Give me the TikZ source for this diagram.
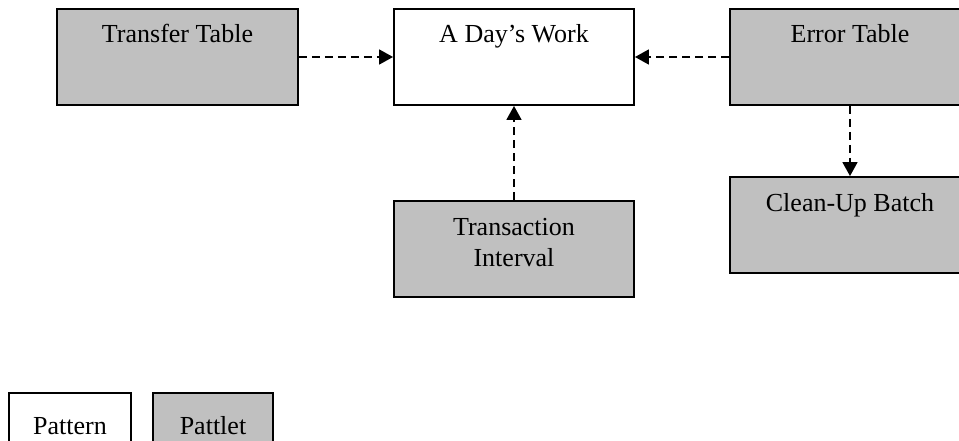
\documentclass[tikz,border=0pt]{standalone}
\usepackage{fontspec}
\setmainfont{Liberation Serif}
\usetikzlibrary{arrows.meta,calc}
\definecolor{boxgray}{HTML}{C0C0C0}
\begin{document}
\begin{tikzpicture}[x=1pt,y=-1pt,
  box/.style={draw=black,line width=1.9pt,rectangle,inner sep=0pt,minimum height=96pt},
  pat/.style={box,fill=white},
  plet/.style={box,fill=boxgray},
  lbl/.style={inner sep=0pt,anchor=base,font=\fontsize{26}{31}\selectfont},
  conn/.style={line width=1.8pt,dash pattern=on 8pt off 5pt,-{Triangle[length=14pt,width=15pt]}}]
\clip (0,0) rectangle (959,441);
\node[plet,minimum width=241pt] (tt) at (177.5,57) {};
\node[pat,minimum width=240pt] (day) at (514,57) {};
\node[plet,minimum width=240pt] (err) at (850,57) {};
\node[plet,minimum width=240pt] (ti) at (514,249) {};
\node[plet,minimum width=240pt] (cub) at (850,225) {};
\node[pat,minimum width=122pt,minimum height=64pt] (lp) at (70,425) {};
\node[plet,minimum width=120pt,minimum height=64pt] (ll) at (213,425) {};
\node[lbl] (ttl) at ($(tt.north)+(0,34)$) {Transfer Table};
\node[lbl] (dayl) at ($(day.north)+(0,34)$) {A Day’s Work};
\node[lbl] (errl) at ($(err.north)+(0,34)$) {Error Table};
\node[lbl] (cubl) at ($(cub.north)+(0,35)$) {Clean-Up Batch};
\node[lbl,align=center,anchor=north] (til) at ($(ti.north)+(0,18)$) {Transaction\\Interval};
\node[lbl] (lpl) at ($(lp.north)+(0,42)$) {Pattern};
\node[lbl] (lll) at ($(ll.north)+(0,42)$) {Pattlet};
\draw[conn] (tt.east) -- (day.west);
\draw[conn] (err.west) -- (day.east);
\draw[conn] (ti.north) -- (day.south);
\draw[conn] (err.south) -- (cub.north);
\end{tikzpicture}
\end{document}
